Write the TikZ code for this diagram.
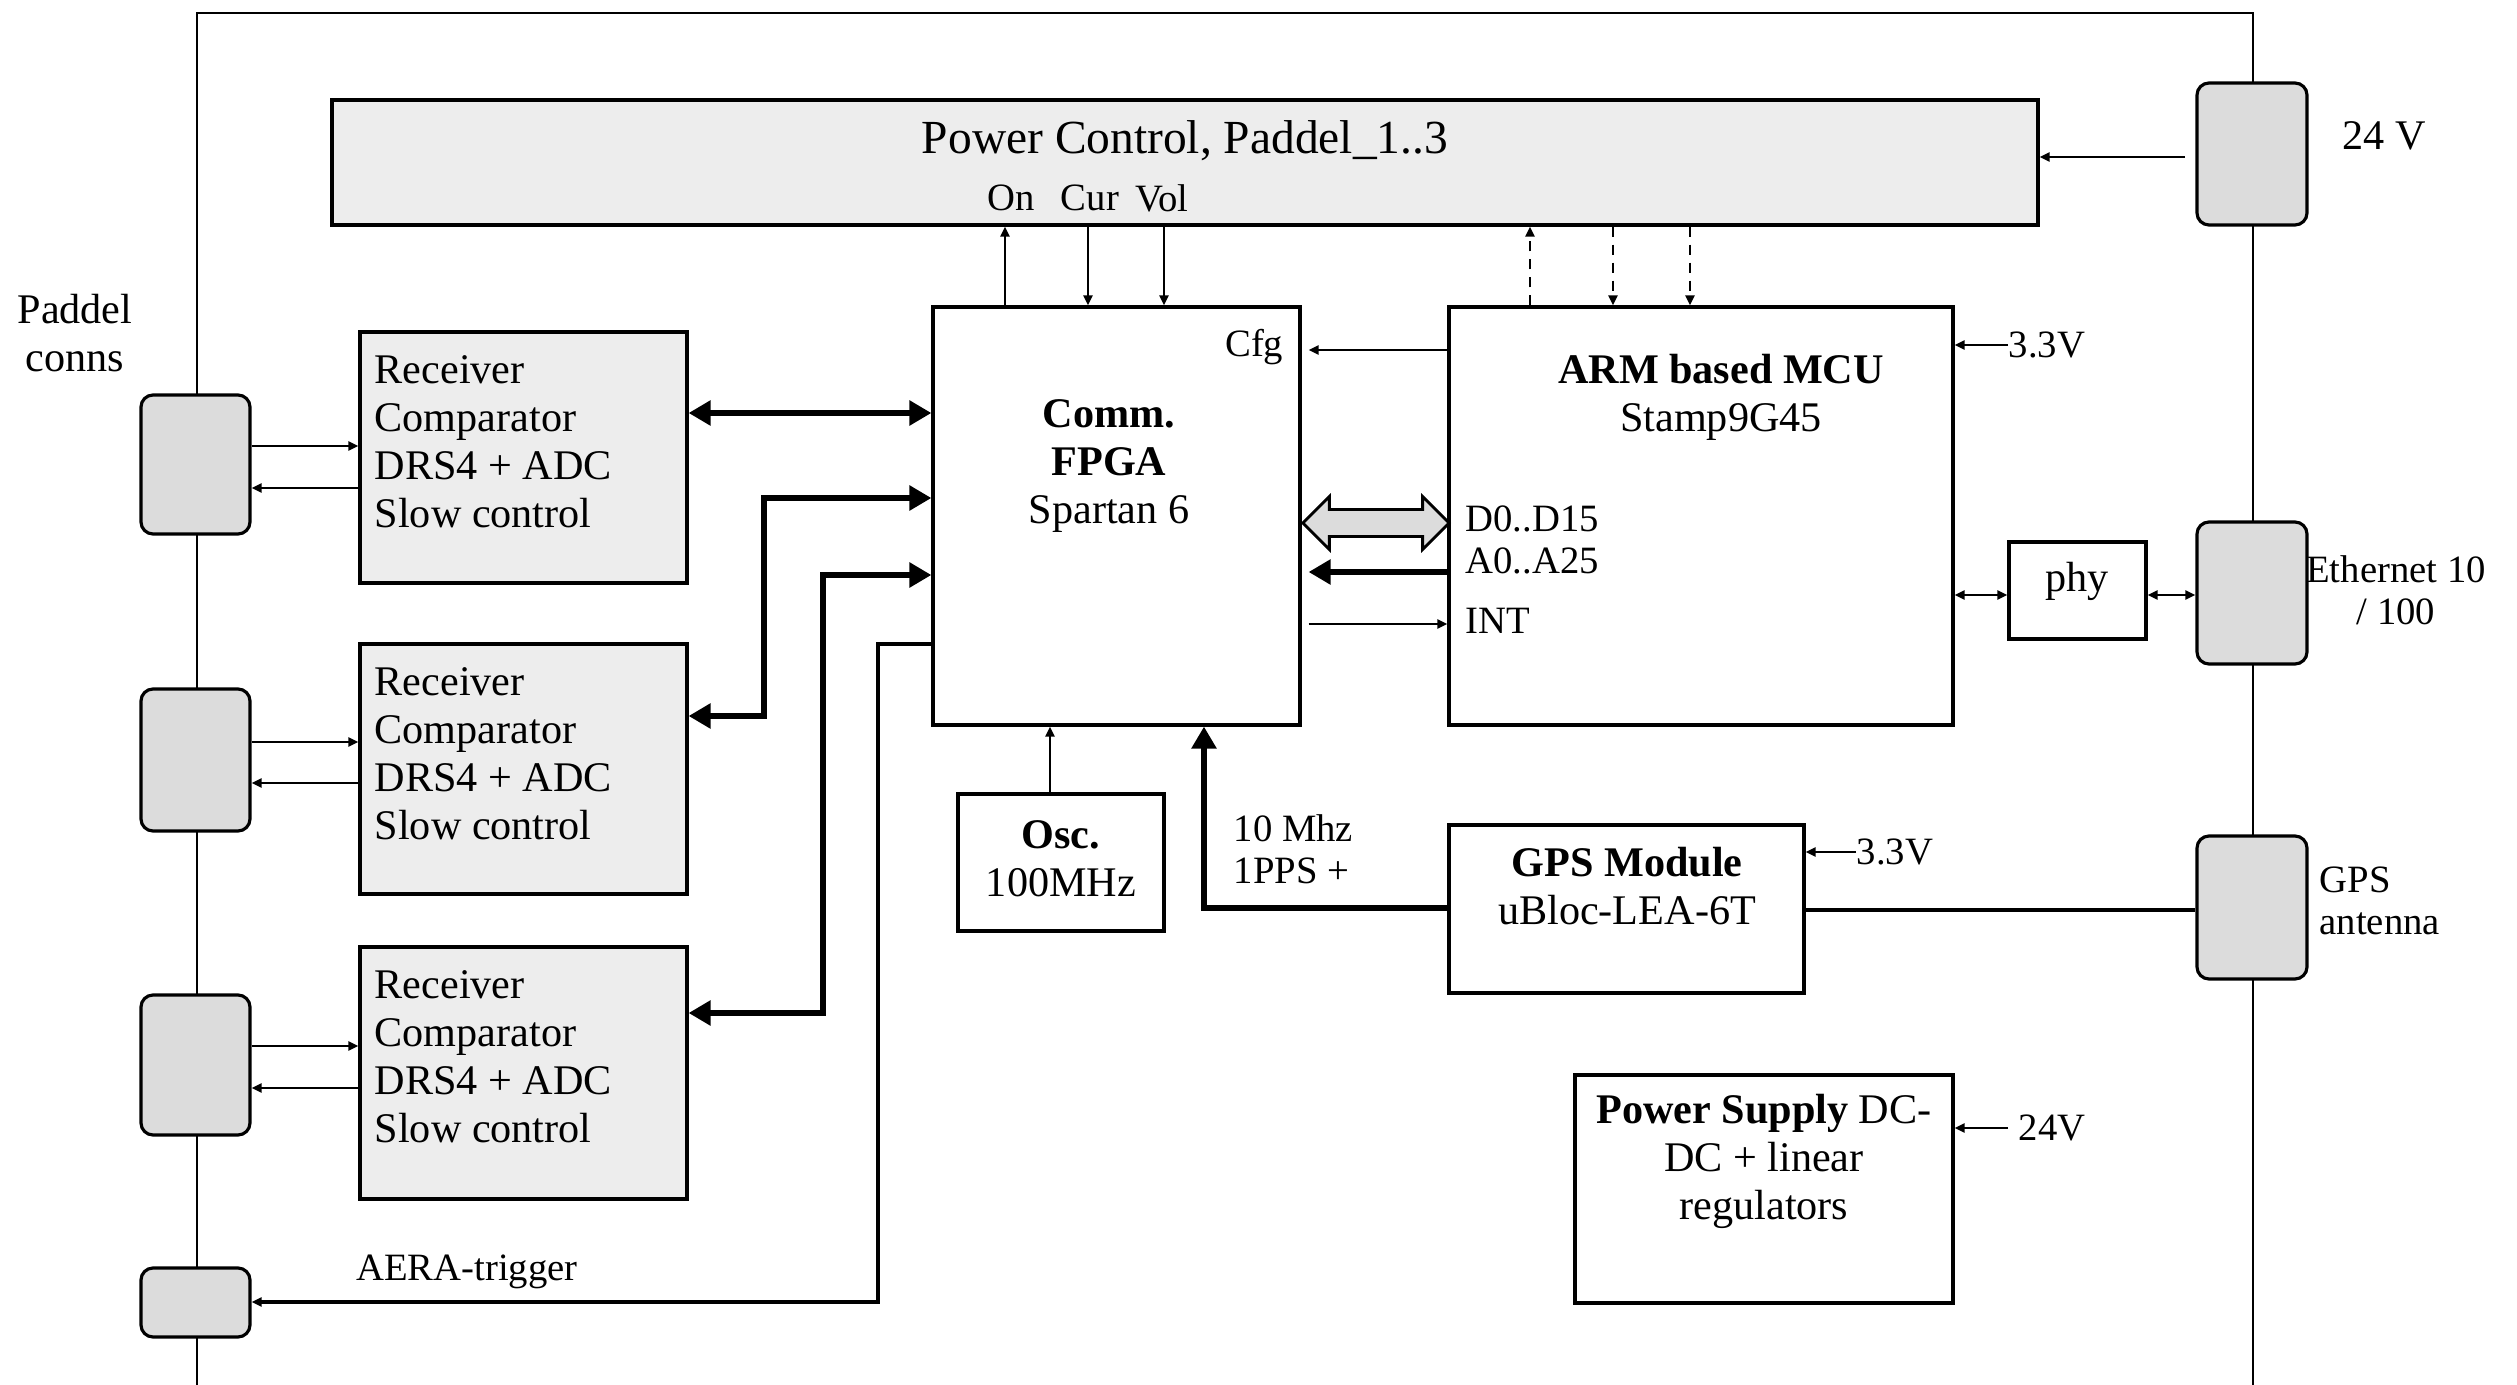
\documentclass[tikz,border=0pt]{standalone}
\usepackage{fontspec}
\setmainfont{Liberation Serif}
\usetikzlibrary{arrows.meta,fit,shapes.arrows}
\definecolor{boxgray}{HTML}{EDEDED}
\definecolor{conngray}{HTML}{DCDCDC}
% box node fitted to two corners: style, name, x1, y1, x2, y2
\newcommand{\unitbox}[6]{\node[#1, fit={(#3,#4) (#5,#6)}] (#2) {};}
\tikzset{
    blk/.style={draw, line width=0.9pt, inner sep=0pt},
    grayblk/.style={blk, fill=boxgray},
    plug/.style={draw, line width=0.9pt, inner sep=0pt, fill=conngray, rounded corners=0.12cm},
    sig/.style={line width=0.7pt, -{Triangle[length=0.1cm, width=0.09cm]}},
    sigboth/.style={line width=0.7pt, {Triangle[length=0.1cm, width=0.09cm]}-{Triangle[length=0.1cm, width=0.09cm]}},
    bus/.style={line width=1.9pt, -{Triangle[length=0.22cm, width=0.24cm]}},
    busboth/.style={line width=1.9pt, {Triangle[length=0.22cm, width=0.24cm]}-{Triangle[length=0.22cm, width=0.24cm]}},
    txt/.style={inner sep=0pt, font=\fontsize{12}{13.66}\selectfont},
    lbl/.style={inner sep=0pt, font=\fontsize{11}{12}\selectfont},
}
\begin{document}
\begin{tikzpicture}[x=0.01cm,y=-0.01cm]
    \useasboundingbox (0,0) rectangle (2517,1385);
    % housing
    \draw[line width=0.7pt] (197,1385) -- (197,13) -- (2253,13) -- (2253,1385);

    % power control
    \unitbox{grayblk}{pwr}{332}{100}{2038}{225}
    \node[txt, font=\fontsize{13.5}{15}\selectfont] (pwrtxt) at (1185,141) {Power Control, Paddel\_1..3};
    \node[lbl] (on) at (1011,198) {On};
    \node[lbl] (cur) at (1090,198) {Cur};
    \node[lbl] (vol) at (1162,198) {Vol};
    \unitbox{plug}{p24}{2197}{83}{2307}{225}
    \node[txt] (p24txt) at (2384,136) {24 V};
    \coordinate (p24in) at (2185,157);
    \draw[sig, line width=0.8pt] (p24in) -- (pwr.east |- p24in);

    % paddel connectors and receivers
    \node[txt, align=center] (paddel) at (75,333) {Paddel\\conns};
    \unitbox{plug}{c1}{141}{395}{250}{534}
    \unitbox{plug}{c2}{141}{689}{250}{831}
    \unitbox{plug}{c3}{141}{995}{250}{1135}
    \unitbox{plug}{c4}{141}{1268}{250}{1337}
    \unitbox{grayblk}{r1}{360}{332}{687}{583}
    \unitbox{grayblk}{r2}{360}{644}{687}{894}
    \unitbox{grayblk}{r3}{360}{947}{687}{1199}
    \node[txt, align=left, anchor=west] (r1txt) at (374,442) {Receiver\\Comparator\\DRS4 + ADC\\Slow control};
    \node[txt, align=left, anchor=west] (r2txt) at (374,754) {Receiver\\Comparator\\DRS4 + ADC\\Slow control};
    \node[txt, align=left, anchor=west] (r3txt) at (374,1057) {Receiver\\Comparator\\DRS4 + ADC\\Slow control};
    \draw[sig] (c1.east |- 0,446) -- (r1.west |- 0,446);
    \draw[sig] (r1.west |- 0,488) -- (c1.east |- 0,488);
    \draw[sig] (c2.east |- 0,742) -- (r2.west |- 0,742);
    \draw[sig] (r2.west |- 0,783) -- (c2.east |- 0,783);
    \draw[sig] (c3.east |- 0,1046) -- (r3.west |- 0,1046);
    \draw[sig] (r3.west |- 0,1088) -- (c3.east |- 0,1088);

    % fpga
    \unitbox{blk}{fpga}{933}{307}{1300}{725}
    \node[txt, align=center] (fpgatxt) at (1109,466) {\textbf{Comm.}\\\textbf{FPGA}\\Spartan 6};
    \node[lbl, anchor=east] (cfg) at (1284,347) {Cfg};
    \draw[busboth] (r1.east |- 0,413) -- (fpga.west |- 0,413);
    \draw[busboth] (fpga.west |- 0,498) -- (764,498) -- (764,716) -- (r2.east |- 0,716);
    \draw[busboth] (fpga.west |- 0,575) -- (823,575) -- (823,1013) -- (r3.east |- 0,1013);
    \draw[sig, line width=0.9pt] (fpga.west |- 0,644) -- (878,644) -- (878,1302) -- (c4.east |- 0,1302);
    \node[lbl] (aera) at (467,1272) {AERA-trigger};
    \draw[sig] (fpga.north -| 1005,0) -- (pwr.south -| 1005,0);
    \draw[sig] (pwr.south -| 1088,0) -- (fpga.north -| 1088,0);
    \draw[sig] (pwr.south -| 1164,0) -- (fpga.north -| 1164,0);

    % mcu
    \unitbox{blk}{mcu}{1449}{307}{1953}{725}
    \node[txt, align=center] (mcutxt) at (1721,397) {\textbf{ARM based MCU}\\Stamp9G45};
    \node[lbl, anchor=west] (dbustxt) at (1465,519) {D0..D15};
    \node[lbl, anchor=west] (abustxt) at (1465,561) {A0..A25};
    \node[lbl, anchor=west] (inttxt) at (1465,621) {INT};
    \draw[sig, dash pattern=on 0.1cm off 0.08cm] (mcu.north -| 1530,0) -- (pwr.south -| 1530,0);
    \draw[sig, dash pattern=on 0.1cm off 0.08cm] (pwr.south -| 1613,0) -- (mcu.north -| 1613,0);
    \draw[sig, dash pattern=on 0.1cm off 0.08cm] (pwr.south -| 1690,0) -- (mcu.north -| 1690,0);
    \draw[sig, shorten >=0.7mm] (mcu.west |- 0,350) -- (fpga.east |- 0,350);
    \node[double arrow, draw, line width=0.8pt, fill=conngray, minimum height=1.46cm,
        double arrow head extend=0.13cm, inner sep=0pt] (dbus) at (1376,523) {\rule{0pt}{0.24cm}};
    \draw[bus, shorten >=0.7mm] (mcu.west |- 0,572) -- (fpga.east |- 0,572);
    \draw[sig, shorten <=0.7mm] (fpga.east |- 0,624) -- (mcu.west |- 0,624);
    \node[lbl, anchor=west] (v33a) at (2008,345) {3.3V};
    \draw[sig] (v33a.west) -- (mcu.east |- v33a.west);

    % ethernet
    \unitbox{blk}{phy}{2009}{542}{2146}{639}
    \node[txt] (phytxt) at (2077,581) {phy};
    \unitbox{plug}{eth}{2197}{522}{2307}{664}
    \node[lbl, align=center] (ethtxt) at (2396,590) {Ethernet 10\\/ 100};
    \draw[sigboth] (mcu.east |- 0,595) -- (phy.west |- 0,595);
    \draw[sigboth] (phy.east |- 0,595) -- (eth.west |- 0,595);

    % gps
    \unitbox{blk}{gps}{1449}{825}{1804}{993}
    \node[txt, align=center] (gpstxt) at (1627,886) {\textbf{GPS Module}\\uBloc-LEA-6T};
    \unitbox{plug}{ant}{2197}{836}{2307}{979}
    \node[lbl, align=left, anchor=west] (anttxt) at (2319,901) {GPS\\antenna};
    \draw[line width=0.9pt] (gps.east |- 0,910) -- (ant.west |- 0,910);
    \node[lbl, anchor=west] (v33b) at (1856,852) {3.3V};
    \draw[sig] (v33b.west) -- (gps.east |- v33b.west);
    \draw[bus, line width=1.6pt] (gps.west |- 0,908) -- (1204,908) -- (fpga.south -| 1204,0);
    \node[lbl, align=left, anchor=west] (ppstxt) at (1233,849) {10 Mhz\\1PPS +};

    % oscillator
    \unitbox{blk}{osc}{958}{794}{1164}{931}
    \node[txt, align=center] (osctxt) at (1061,859) {\textbf{Osc.}\\100MHz};
    \draw[sig] (osc.north -| 1050,0) -- (fpga.south -| 1050,0);

    % power supply
    \unitbox{blk}{psu}{1575}{1075}{1953}{1303}
    \node[txt, align=center] (psutxt) at (1764,1161) {\textbf{Power Supply} DC-\\DC + linear\\regulators};
    \node[lbl, anchor=west] (v24) at (2018,1128) {24V};
    \draw[sig, shorten <=1mm] (v24.west) -- (psu.east |- v24.west);
\end{tikzpicture}
\end{document}
